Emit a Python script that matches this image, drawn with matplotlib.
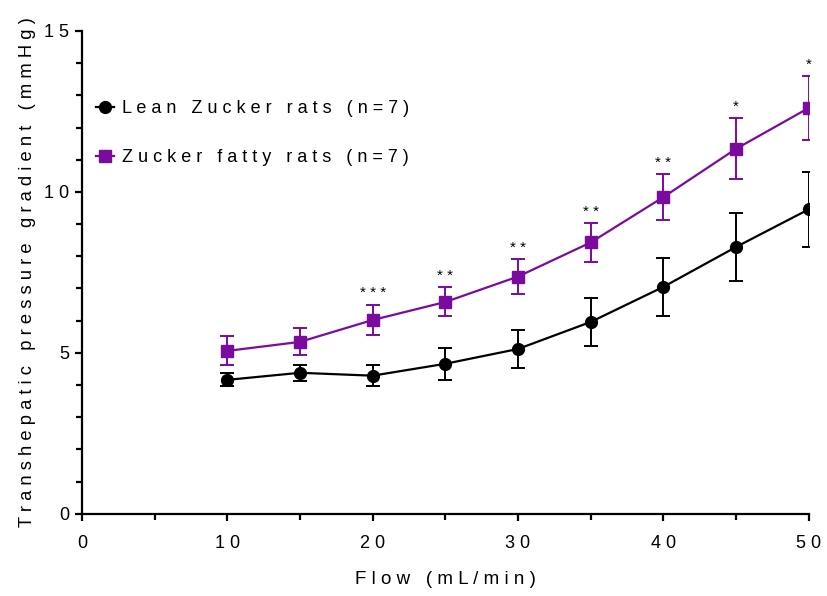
import numpy as np
import matplotlib.pyplot as plt
from matplotlib.ticker import MultipleLocator
from matplotlib.lines import Line2D

# Data
flow = [10, 15, 20, 25, 30, 35, 40, 45, 50]
lean_mean = [4.16, 4.38, 4.29, 4.66, 5.12, 5.96, 7.05, 8.29, 9.46]
lean_err = [0.20, 0.25, 0.33, 0.50, 0.60, 0.75, 0.90, 1.07, 1.16]
fatty_mean = [5.06, 5.34, 6.02, 6.58, 7.37, 8.43, 9.84, 11.34, 12.61]
fatty_err = [0.45, 0.42, 0.48, 0.45, 0.53, 0.60, 0.72, 0.95, 1.00]
stars = ["", "", "***", "**", "**", "**", "**", "*", "*"]

purple = "#7b0a9f"

plt.rcParams["font.family"] = ["Liberation Sans", "DejaVu Sans"]


# wide letter spacing like the original figure
def spaced(s):
    return "   ".join(" ".join(w) for w in s.split(" "))


fig = plt.figure(figsize=(8.27, 5.96), dpi=100)
ax = fig.add_axes([0.099, 0.138, 0.879, 0.81])

ax.errorbar(flow, lean_mean, yerr=lean_err, color="black", marker="o",
            markersize=8.5, linewidth=1.6, elinewidth=1.4, capsize=5,
            capthick=1.4, zorder=3)
ax.errorbar(flow, fatty_mean, yerr=fatty_err, color=purple, marker="s",
            markersize=8, linewidth=1.6, elinewidth=1.4, capsize=5,
            capthick=1.4, zorder=3)

for x, m, e, s in zip(flow, fatty_mean, fatty_err, stars):
    if s:
        ax.annotate(spaced(s), (x, m + e), xytext=(0, 3),
                    textcoords="offset points", ha="center", va="bottom",
                    fontsize=11)

ax.set_xlim(0, 50)
ax.set_ylim(0, 15)
ax.xaxis.set_minor_locator(MultipleLocator(5))
ax.yaxis.set_minor_locator(MultipleLocator(1))
ax.set_xticks([0, 10, 20, 30, 40, 50])
ax.set_xticklabels([spaced(str(v)) for v in [0, 10, 20, 30, 40, 50]])
ax.set_yticks([0, 5, 10, 15])
ax.set_yticklabels([spaced(str(v)) for v in [0, 5, 10, 15]])

for sp in ["top", "right"]:
    ax.spines[sp].set_visible(False)
for sp in ["left", "bottom"]:
    ax.spines[sp].set_linewidth(1.6)
ax.tick_params(which="major", length=5, width=1.6, labelsize=13)
ax.tick_params(which="minor", length=4, width=1.6)
ax.tick_params(axis="x", which="major", pad=10)
ax.tick_params(axis="y", which="major", pad=4)

ax.set_xlabel(spaced("Flow (mL/min)"), fontsize=13.5, labelpad=14)
ax.set_ylabel(spaced("Transhepatic pressure gradient (mmHg)"), fontsize=13.2,
              labelpad=6)

handles = [
    Line2D([], [], color="black", marker="o", markersize=8.5, linewidth=1.6),
    Line2D([], [], color=purple, marker="s", markersize=8, linewidth=1.6),
]
labels = [spaced("Lean Zucker rats (n=7)"), spaced("Zucker fatty rats (n=7)")]
ax.legend(handles, labels, loc="upper left", bbox_to_anchor=(-0.003, 0.89),
          frameon=False, fontsize=13, handlelength=1.0, handletextpad=0.45,
          labelspacing=1.75)

fig.savefig("out.png", dpi=100)
